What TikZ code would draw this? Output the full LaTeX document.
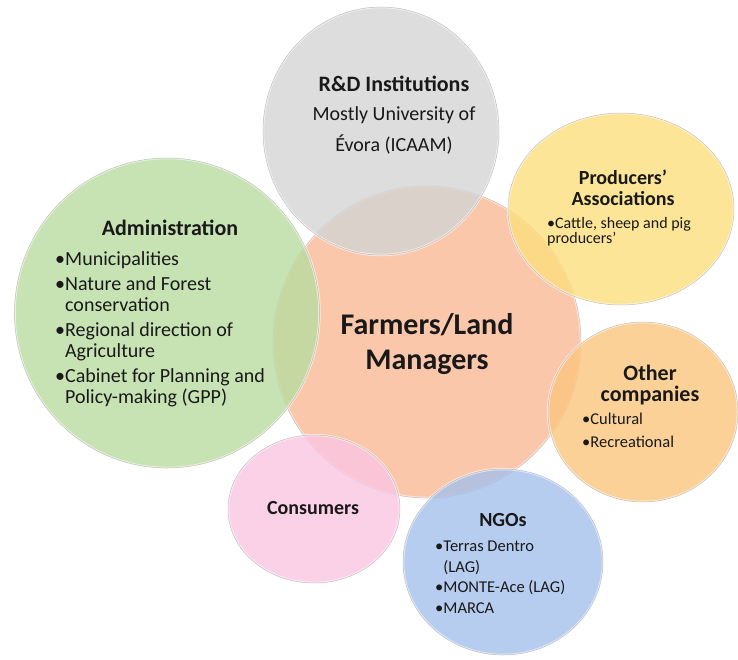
\documentclass[tikz,border=0pt]{standalone}
\usepackage{fontspec}
\setmainfont{Carlito}
\usepackage{tikz}
\usetikzlibrary{shapes.geometric}

\definecolor{rndgrey}{RGB}{212,212,212}
\definecolor{prodyellow}{RGB}{252,222,125}
\definecolor{admingreen}{RGB}{186,220,160}
\definecolor{farmorange}{RGB}{250,185,150}
\definecolor{othorange}{RGB}{250,198,125}
\definecolor{conspink}{RGB}{250,198,226}
\definecolor{ngoblue}{RGB}{165,192,235}
\definecolor{txt}{RGB}{25,25,25}

\begin{document}
\begin{tikzpicture}[x=1pt,y=-1pt,font=\fontsize{20}{21}\selectfont,text=txt]
    \tikzstyle{bubble}=[ellipse,inner sep=0,fill opacity=0.8,draw=white,draw opacity=0.55,line width=2.5pt,postaction={draw=black!40,draw opacity=0.6,line width=0.5pt}]
    \tikzstyle{title}=[font=\bfseries\fontsize{22}{24}\selectfont,align=center]
    \tikzstyle{items}=[align=left,anchor=north west,inner sep=0]
    \useasboundingbox (0,0) rectangle (738,659);
    % the circles
    \node [bubble,fill=farmorange,minimum width=308pt,minimum height=312pt] (farm) at (427,342) {};
    \node [bubble,fill=rndgrey,minimum width=236pt,minimum height=248pt] (rnd) at (381,131) {};
    \node [bubble,fill=prodyellow,minimum width=226pt,minimum height=192pt] (prod) at (621,209) {};
    \node [bubble,fill=admingreen,minimum width=305pt,minimum height=310pt] (admin) at (167,313) {};
    \node [bubble,fill=othorange,minimum width=190pt,minimum height=180pt] (other) at (643,412) {};
    \node [bubble,fill=conspink,minimum width=172pt,minimum height=148pt] (cons) at (314,509) {};
    \node [bubble,fill=ngoblue,minimum width=200pt,minimum height=186pt] (ngo) at (503,562) {};
    % the texts
    \node [title,font=\bfseries\fontsize{30}{35}\selectfont] (farmtxt) at (427,344) {Farmers/Land\\Managers};
    \node [title] (rndtitle) at (394,84) {R\&D Institutions};
    \node [align=center,font=\fontsize{20}{31}\selectfont] (rndtxt) at (394,130) {Mostly University of\\Évora (ICAAM)};
    \node [title,font=\bfseries\fontsize{20}{21}\selectfont] (prodtitle) at (623,188) {Producers’\\Associations};
    \node [items,font=\fontsize{16}{15}\selectfont] (prodtxt) at (547,217) {•Cattle, sheep and pig\\producers’};
    \node [title] (admintitle) at (170,228) {Administration};
    \node [items] (admintxt) at (55,251) {•Municipalities\\[4pt]
      •Nature and Forest\\\phantom{•}conservation\\[4pt]
      •Regional direction of\\\phantom{•}Agriculture\\[4pt]
      •Cabinet for Planning and\\\phantom{•}Policy-making (GPP)};
    \node [title,font=\bfseries\fontsize{22}{21}\selectfont] (othtitle) at (650,385) {Other\\companies};
    \node [items,font=\fontsize{16.5}{23}\selectfont] (othtxt) at (582,413) {•Cultural\\•Recreational};
    \node [title,font=\bfseries\fontsize{20}{20}\selectfont] (constxt) at (313,508) {Consumers};
    \node [title,font=\bfseries\fontsize{20}{20}\selectfont] (ngotitle) at (503,520) {NGOs};
    \node [items,font=\fontsize{16.5}{20.5}\selectfont] (ngotxt) at (435,541) {•Terras Dentro\\\phantom{•}(LAG)\\•MONTE-Ace (LAG)\\•MARCA};
\end{tikzpicture}
\end{document}
